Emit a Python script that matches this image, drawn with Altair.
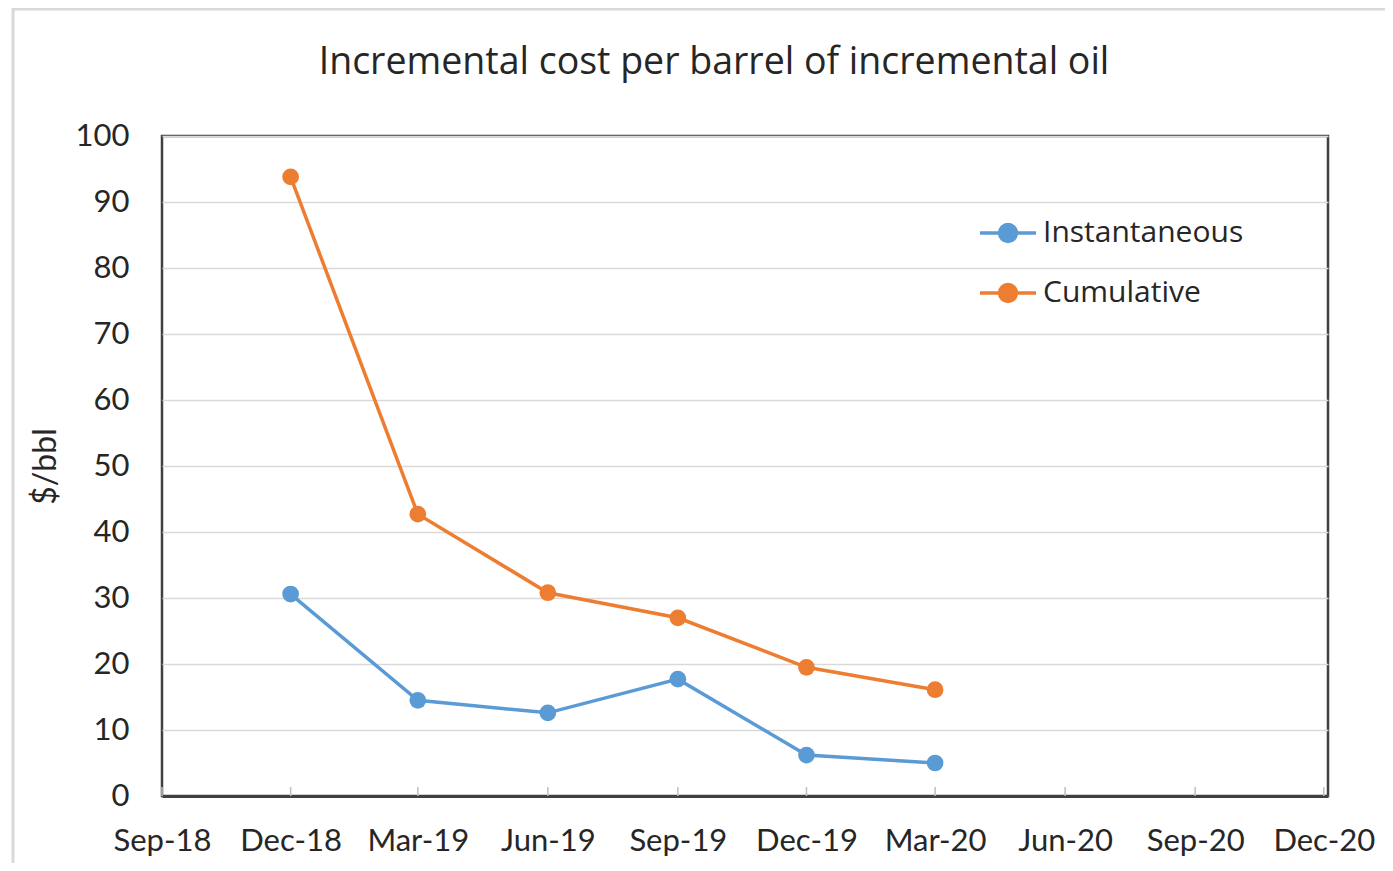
import altair as alt
import pandas as pd

dates = ["2018-12-01", "2019-03-01", "2019-06-01", "2019-09-01", "2019-12-01", "2020-03-01"]
instantaneous = [30.6, 14.5, 12.6, 17.7, 6.2, 5.0]
cumulative = [93.8, 42.7, 30.8, 27.0, 19.5, 16.1]
series_names = ["Instantaneous", "Cumulative"]
series_colors = ["#5B9BD5", "#ED7D31"]
tick_dates = ["2018-09-01", "2018-12-01", "2019-03-01", "2019-06-01", "2019-09-01",
              "2019-12-01", "2020-03-01", "2020-06-01", "2020-09-01", "2020-12-01"]
title_text = "Incremental cost per barrel of incremental oil"

rows = []
for d, v in zip(dates, instantaneous):
    rows.append({"date": d, "value": v, "series": "Instantaneous"})
for d, v in zip(dates, cumulative):
    rows.append({"date": d, "value": v, "series": "Cumulative"})
df = pd.DataFrame(rows)
ticks_df = pd.DataFrame({"date": tick_dates})

FONT = "Lato"
FONT2 = "Open Sans"
TXT = "#262626"

def dt(s):
    y, m, d = [int(p) for p in s.split("-")]
    return alt.DateTime(year=y, month=m, date=d, utc=True)

xscale = alt.Scale(type="utc", domain=[dt("2018-09-01"), dt("2020-12-04")])
xaxis = alt.Axis(
    values=[dt(s) for s in tick_dates],
    labelExpr="utcFormat(datum.value, '%b-%y')",
    labelFont=FONT, labelFontSize=31, labelColor=TXT, labelPadding=30,
    ticks=False, grid=False, domainColor="#404040", domainWidth=3, title=None,
    labelFlush=False, labelOverlap=False,
)
yaxis = alt.Axis(
    values=list(range(0, 101, 10)), labelFont=FONT, labelFontSize=31, labelColor=TXT,
    labelPadding=33, ticks=False, domain=False, gridColor="#d9d9d9", gridWidth=1.5,
    title="$/bbl", titleFont=FONT, titleFontSize=32, titleFontWeight="normal",
    titleColor=TXT, titleAngle=-90, titleX=-117, titleY=330,
    titleAlign="center", titleBaseline="middle",
)

legend_symbol = "M -1 0 L 1 0 M -0.3 0 A 0.3 0.3 0 1 0 0.3 0 A 0.3 0.3 0 1 0 -0.3 0 Z"

color = alt.Color(
    "series:N",
    scale=alt.Scale(domain=series_names, range=series_colors),
    sort=series_names,
    legend=alt.Legend(
        title=None, orient="none", legendX=816, legendY=67,
        symbolType=legend_symbol, symbolSize=3136, symbolStrokeWidth=3.5,
        labelFont=FONT2, labelFontSize=30, labelColor=TXT, labelLimit=0,
        rowPadding=14, labelOffset=5, symbolOpacity=1,
    ),
)

base = alt.Chart(df).encode(
    x=alt.X("date:T", scale=xscale, axis=xaxis),
    y=alt.Y("value:Q", scale=alt.Scale(domain=[0, 100], nice=False), axis=yaxis),
    color=color,
)

lines = base.mark_line(strokeWidth=3.5)
points = base.mark_point(filled=True, size=280, opacity=1)

tick_marks = alt.Chart(ticks_df).mark_rule(color="#bfbfbf", strokeWidth=1.5).encode(
    x=alt.X("date:T", scale=xscale),
    y=alt.value(660), y2=alt.value(651),
)

border = alt.Chart(ticks_df.head(1)).mark_rect(
    fill=None, stroke="#d9d9d9", strokeWidth=3
).encode(
    x=alt.value(-149), x2=alt.value(1300), y=alt.value(-127), y2=alt.value(800),
)

title = alt.Chart(ticks_df.head(1)).mark_text(
    text=title_text, font=FONT2, fontSize=37.5, color=TXT, align="center", baseline="alphabetic"
).encode(x=alt.value(552), y=alt.value(-62))

chart = alt.layer(border, tick_marks, lines, points, title).properties(
    width=1166, height=660,
    background="white",
    autosize=alt.AutoSizeParams(type="none"),
    padding={"left": 154, "top": 128, "right": 57, "bottom": 67},
).configure_view(
    stroke="#404040", strokeWidth=2.5
)

chart.save("out.html", embed_options={"renderer": "svg", "actions": False})
